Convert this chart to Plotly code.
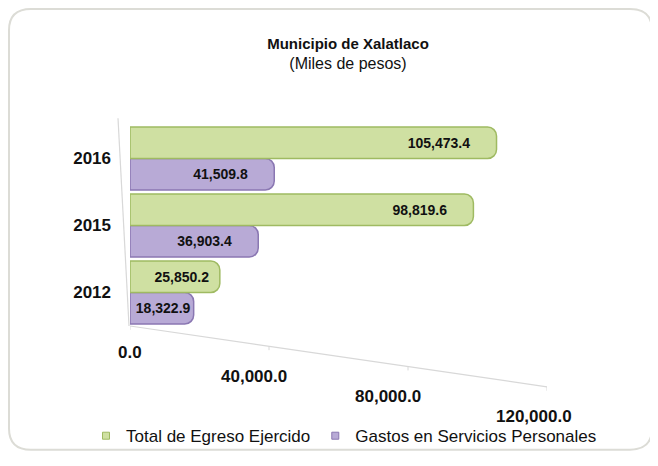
import plotly.graph_objects as go

years = ["2012", "2015", "2016"]
total_egreso = [25850.2, 98819.6, 105473.4]
gastos_personales = [18322.9, 36903.4, 41509.8]
x_ticks = [0, 40000, 80000, 120000]
x_tick_labels = ["0.0", "40,000.0", "80,000.0", "120,000.0"]

FONT = "Liberation Sans, Arial, sans-serif"
green_fill = "#cfe0a2"
green_line = "#9fba62"
purple_fill = "#b8aad6"
purple_line = "#8a77b2"

NB = "\u00a0"
def bar_text(vals):
    # value label with a little right padding inside the bar face
    out = []
    for v in vals:
        pad = 6 if v > 30000 else (2 if v > 20000 else 0)
        out.append(f"{v:,.1f}" + NB * pad)
    return out

# page offset of the plot div (browser default body margin)
OFF = 8
W, H = 658 - OFF, 466 - OFF
PL, PR, PT, PB = 130 - OFF, 547 - OFF, 125 - OFF, 333 - OFF

def px_x(p):  # page px -> paper x
    return (p - OFF - PL) / (PR - PL)
def px_y(p):  # page px -> paper y
    return (PB - (p - OFF)) / (PB - PT)

fig = go.Figure()
fig.add_trace(go.Bar(
    y=years, x=gastos_personales, orientation="h", name="Gastos en Servicios Personales",
    marker=dict(color=purple_fill, line=dict(color=purple_line, width=1.5), cornerradius=9),
    text=bar_text(gastos_personales), textposition="inside", insidetextanchor="end",
    textfont=dict(family=FONT, size=14, color="#111111", weight="bold"),
    showlegend=False, hoverinfo="skip",
))
fig.add_trace(go.Bar(
    y=years, x=total_egreso, orientation="h", name="Total de Egreso Ejercido",
    marker=dict(color=green_fill, line=dict(color=green_line, width=1.5), cornerradius=9),
    text=bar_text(total_egreso), textposition="inside", insidetextanchor="end",
    textfont=dict(family=FONT, size=14, color="#111111", weight="bold"),
    showlegend=False, hoverinfo="skip",
))
# legend entries with small square markers
fig.add_trace(go.Scatter(x=[None], y=[None], mode="markers", name="Total de Egreso Ejercido",
                         marker=dict(symbol="square", size=7, color=green_fill,
                                     line=dict(color=green_line, width=1))))
fig.add_trace(go.Scatter(x=[None], y=[None], mode="markers", name="Gastos en Servicios Personales",
                         marker=dict(symbol="square", size=7, color=purple_fill,
                                     line=dict(color=purple_line, width=1))))

shapes = []
# rounded frame
x0, x1 = px_x(9), px_x(652)
y0, y1 = px_y(461), px_y(5)
rx, ry = 22 / (PR - PL), 22 / (PB - PT)
path = (f"M {x0+rx},{y1} L {x1-rx},{y1} Q {x1},{y1} {x1},{y1-ry} "
        f"L {x1},{y0+ry} Q {x1},{y0} {x1-rx},{y0} L {x0+rx},{y0} "
        f"Q {x0},{y0} {x0},{y0+ry} L {x0},{y1-ry} Q {x0},{y1} {x0+rx},{y1} Z")
shapes.append(dict(type="path", xref="paper", yref="paper", path=path,
                   line=dict(color="#dcdcd6", width=2), layer="below"))
# slanted value axis line with tick marks
ax_y0, ax_y1 = px_y(333), px_y(396)
shapes.append(dict(type="line", xref="x", yref="paper", x0=x_ticks[0], x1=x_ticks[-1],
                   y0=ax_y0, y1=ax_y1, line=dict(color="#d8d8d8", width=1.2)))
for v in x_ticks:
    yy = ax_y0 + (ax_y1 - ax_y0) * (v - x_ticks[0]) / (x_ticks[-1] - x_ticks[0])
    shapes.append(dict(type="line", xref="x", yref="paper", x0=v, x1=v,
                       y0=yy, y1=yy - 4 / (PB - PT), line=dict(color="#d8d8d8", width=1)))
# vertical category axis line
shapes.append(dict(type="line", xref="paper", yref="paper", x0=px_x(118), x1=px_x(129),
                   y0=px_y(118), y1=px_y(333), line=dict(color="#d8d8d8", width=1.2)))

annotations = []
label_pos = [(0, 360), (-15, 385), (-20, 406), (-13, 427)]
for v, lab, (dx, py) in zip(x_ticks, x_tick_labels, label_pos):
    annotations.append(dict(x=v, xref="x", y=px_y(py), yref="paper", text=f"<b>{lab}</b>",
                            showarrow=False, xshift=dx, yanchor="middle",
                            font=dict(family=FONT, size=17, color="#111111")))

fig.update_layout(
    width=W, height=H,
    margin=dict(l=PL, r=W - PR, t=PT, b=H - PB),
    paper_bgcolor="white", plot_bgcolor="white",
    barmode="group", bargap=0.06, bargroupgap=0.0,
    uniformtext=dict(minsize=14, mode="show"),
    title=dict(text="<b>Municipio de Xalatlaco</b><br><span style='font-size:16px'>(Miles de pesos)</span>",
               x=px_x(348), xref="paper", xanchor="center",
               y=1 - (49 - OFF) / H, yref="container", yanchor="middle",
               font=dict(family=FONT, size=15, color="#111111")),
    xaxis=dict(range=[0, 120000], showgrid=False, zeroline=False, showline=False,
               showticklabels=False, ticks=""),
    yaxis=dict(showgrid=False, zeroline=False, showline=False, ticks="",
               tickfont=dict(family=FONT, size=17, color="#111111", weight="bold"),
               ticklabelstandoff=18),
    legend=dict(orientation="h", x=px_x(86), xanchor="left", y=px_y(447), yanchor="middle",
                font=dict(family=FONT, size=17, color="#111111"),
                itemwidth=30, bgcolor="rgba(0,0,0,0)"),
    shapes=shapes, annotations=annotations,
    showlegend=True,
)

fig.write_html("out.html")
